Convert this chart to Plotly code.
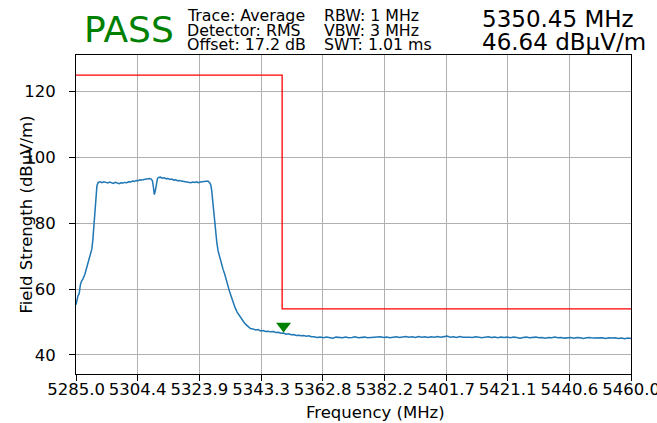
import numpy as np
import plotly.graph_objects as go

# ---------------- data ----------------
freq_mhz = [
    5285.0, 5285.3, 5285.6, 5286.0, 5286.4, 5286.8, 5287.2, 5287.8, 5288.4, 5288.9,
    5289.5, 5290.0, 5290.3, 5290.6, 5290.9, 5291.2, 5291.6, 5292.0, 5292.6,
    5293.2, 5293.8, 5294.4, 5295.0, 5295.6, 5296.2, 5296.8, 5297.4, 5298.0, 5298.6,
    5299.2, 5299.8, 5300.4, 5301.0, 5301.6, 5302.2, 5302.8, 5303.4, 5304.0, 5304.6,
    5305.2, 5305.8, 5306.4, 5307.0, 5307.6, 5308.2, 5308.7,
    5309.1, 5309.4, 5309.7, 5310.0, 5310.3, 5310.7, 5311.1,
    5311.6, 5312.2, 5312.8, 5313.4, 5314.0, 5314.6, 5315.2, 5315.8, 5316.4, 5317.0,
    5317.6, 5318.2, 5318.8, 5319.4, 5320.0, 5320.6, 5321.2, 5321.8, 5322.4, 5323.0,
    5323.6, 5324.2, 5324.8, 5325.4, 5326.0, 5326.6, 5327.1,
    5327.5, 5327.8, 5328.1, 5328.4, 5328.7, 5329.0, 5329.4, 5329.8, 5330.3, 5330.8,
    5331.4, 5331.9, 5332.4, 5332.9, 5333.4, 5333.9, 5334.5, 5335.1, 5335.8, 5336.5,
    5337.2, 5337.9, 5338.6, 5339.3, 5340.0, 5340.8, 5341.6, 5342.4, 5343.2, 5344.0,
    5344.8, 5345.6, 5346.4, 5347.2, 5348.0, 5348.8, 5349.6, 5350.45, 5351.2, 5352.0,
    5352.8, 5353.6, 5354.4, 5355.2, 5356.0, 5356.8, 5357.6, 5358.4, 5359.2,
    5360, 5361, 5362, 5363, 5364, 5365, 5366, 5367, 5368, 5369,
    5370, 5371, 5372, 5373, 5374, 5375, 5376, 5377, 5378, 5379,
    5380, 5381, 5382, 5383, 5384, 5385, 5386, 5387, 5388, 5389,
    5390, 5391, 5392, 5393, 5394, 5395, 5396, 5397, 5398, 5399,
    5400, 5401, 5402, 5403, 5404, 5405, 5406, 5407, 5408, 5409,
    5410, 5411, 5412, 5413, 5414, 5415, 5416, 5417, 5418, 5419,
    5420, 5421, 5422, 5423, 5424, 5425, 5426, 5427, 5428, 5429,
    5430, 5431, 5432, 5433, 5434, 5435, 5436, 5437, 5438, 5439,
    5440, 5441, 5442, 5443, 5444, 5445, 5446, 5447, 5448, 5449,
    5450, 5451, 5452, 5453, 5454, 5455, 5456, 5457, 5458, 5459, 5460,
]
level_dbuv_m = [
    55.2, 56.8, 57.9, 58.6, 61.4, 62.5, 63.1, 64.5, 66.6, 68.0,
    70.1, 72.2, 74.8, 78.8, 83.8, 88.3, 91.4, 92.4, 92.6,
    92.3, 92.6, 92.4, 92.2, 92.5, 92.3, 92.1, 92.4, 92.2, 92.0,
    92.3, 92.2, 92.4, 92.3, 92.6, 92.5, 92.8, 92.7, 93.0, 92.9,
    93.2, 93.1, 93.3, 93.4, 93.3, 93.6, 93.4,
    92.9, 91.0, 88.7, 89.8, 92.2, 93.6, 93.9,
    94.0, 93.7, 93.8, 93.5, 93.6, 93.3, 93.4, 93.1, 93.2, 92.9,
    93.0, 92.8, 92.7, 92.8, 92.5, 92.6, 92.3, 92.5, 92.4, 92.6,
    92.3, 92.5, 92.6, 92.7, 92.6, 92.8, 92.4,
    91.6, 89.8, 86.5, 82.6, 79.5, 76.8, 74.2, 71.6, 69.6, 67.9,
    65.9, 64.5, 62.6, 61.2, 59.3, 57.9, 56.0, 54.5, 53.0, 51.9,
    50.8, 50.0, 49.2, 48.7, 48.0, 47.9, 47.6, 47.7, 47.3, 47.4,
    47.1, 47.2, 47.0, 47.1, 46.8, 46.9, 46.6, 46.64, 46.3, 46.4,
    46.1, 46.2, 45.9, 46.0, 45.8, 45.9, 45.7, 45.8, 45.5,
    45.5, 45.3, 45.4, 45.2, 45.4, 45.3, 45.1, 45.4, 45.3, 45.2,
    45.4, 45.2, 45.3, 45.5, 45.2, 45.3, 45.4, 45.2, 45.3, 45.4,
    45.3, 45.5, 45.3, 45.4, 45.2, 45.4, 45.5, 45.3, 45.4, 45.6,
    45.4, 45.5, 45.3, 45.6, 45.4, 45.5, 45.3, 45.5, 45.4, 45.6,
    45.4, 45.5, 45.7, 45.4, 45.5, 45.3, 45.6, 45.4, 45.5, 45.4,
    45.3, 45.5, 45.4, 45.2, 45.4, 45.5, 45.3, 45.4, 45.2, 45.4,
    45.3, 45.4, 45.2, 45.4, 45.3, 45.1, 45.3, 45.4, 45.2, 45.3,
    45.4, 45.2, 45.3, 45.1, 45.3, 45.2, 45.4, 45.2, 45.3, 45.1,
    45.2, 45.3, 45.1, 45.3, 45.2, 45.0, 45.2, 45.3, 45.1, 45.2,
    45.1, 45.2, 45.0, 45.2, 45.1, 45.2, 45.0, 45.1, 44.9, 45.1, 45.0,
]

limit_freq = [5285.0, 5350.0, 5350.0, 5460.0]
limit_level = [125.0, 125.0, 54.0, 54.0]

marker_freq = 5350.45
marker_level = 46.64
marker_draw_level = 48.8   # level at which the marker glyph sits above the trace

x_tick_labels = ["5285.0", "5304.4", "5323.9", "5343.3", "5362.8",
                 "5382.2", "5401.7", "5421.1", "5440.6", "5460.0"]
y_ticks = [40, 60, 80, 100, 120]
x_range = [5285.0, 5460.0]
y_range = [34.2, 131.1]

header_col1 = ["Trace: Average", "Detector: RMS", "Offset: 17.2 dB"]
header_col2 = ["RBW: 1 MHz", "VBW: 3 MHz", "SWT: 1.01 ms"]
verdict = "PASS"
readout = [f"{marker_freq:.2f} MHz", f"{marker_level:.2f} dBµV/m"]

# ---------------- layout geometry (pixels) ----------------
W, H = 657, 423
L, R, T, B = 76, 631, 55, 374
PW, PH = R - L, B - T
FONT = "DejaVu Sans"


def px(x):
    return (x - L) / PW


def py(y):
    return (B - y) / PH


fig = go.Figure()
fig.add_trace(go.Scatter(x=freq_mhz, y=level_dbuv_m, mode="lines",
                         line=dict(color="#1f77b4", width=1.5), hoverinfo="skip"))
fig.add_trace(go.Scatter(x=limit_freq, y=limit_level, mode="lines",
                         line=dict(color="#ff0000", width=1.3), hoverinfo="skip"))
fig.add_trace(go.Scatter(x=[marker_freq], y=[marker_draw_level], mode="markers",
                         marker=dict(symbol="triangle-down", size=13, color="#008000",
                                     line=dict(width=0)), hoverinfo="skip"))

x_tick_vals = [round(v, 6) for v in np.linspace(x_range[0], x_range[1], len(x_tick_labels))]

axis_common = dict(showline=True, linecolor="black", linewidth=1, mirror=True,
                   ticks="outside", ticklen=6, tickcolor="black", tickwidth=1,
                   showgrid=True, gridcolor="#b0b0b0", gridwidth=1, zeroline=False,
                   ticklabeloverflow="allow", automargin=False,
                   tickfont=dict(family=FONT, size=16.5, color="black"))

fig.update_layout(
    width=W, height=H, margin=dict(l=L, r=W - R, t=T, b=H - B),
    paper_bgcolor="white", plot_bgcolor="white", showlegend=False,
    font=dict(family=FONT, color="black"),
    xaxis=dict(range=[x_range[0] - 1e-6, x_range[1] + 1e-6], tickvals=x_tick_vals,
               ticktext=x_tick_labels, ticklabelstandoff=-6, **axis_common),
    yaxis=dict(range=y_range, tickvals=y_ticks, ticktext=[str(v) for v in y_ticks],
               ticklabelstandoff=10, **axis_common),
)

ann = []


def add_text(text, xpx, ypx, size, color="black", xanchor="left", angle=0):
    ann.append(dict(text=text, x=px(xpx), y=py(ypx), xref="paper", yref="paper",
                    xanchor=xanchor, yanchor="middle", showarrow=False, textangle=angle,
                    borderpad=0,
                    font=dict(family=FONT, size=size, color=color)))


add_text(verdict, 83, 29.2, 36, color="#008000")
rows = [15.3, 30.3, 44.6]
for t, y in zip(header_col1, rows):
    add_text(t, 186.0, y, 15.8)
for t, y in zip(header_col2, rows):
    add_text(t, 323.0, y, 15.8)
add_text(readout[0], 480.5, 18.6, 23)
add_text(readout[1], 480.5, 41.7, 23)
add_text("Frequency (MHz)", 375.7, 412, 16.5, xanchor="center")
add_text("Field Strength (dBµV/m)", 26, (T + B) / 2, 16.5, xanchor="center", angle=-90)

fig.update_layout(annotations=ann)
fig.write_html("out.html", config={"displayModeBar": False},
               post_script="document.body.style.margin='0';document.body.style.padding='0';")
